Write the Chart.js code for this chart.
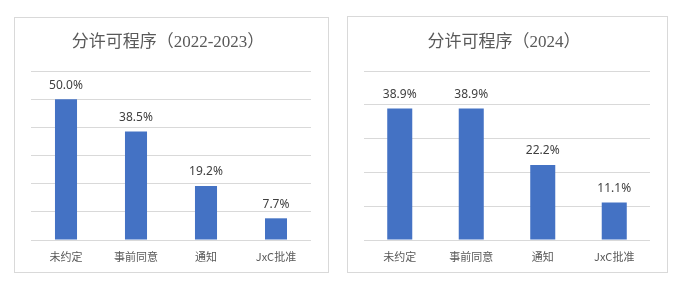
<!DOCTYPE html>
<html>
<head>
<meta charset="utf-8">
<script src="https://cdn.jsdelivr.net/npm/chart.js@4"></script>
<style>
  html, body { margin: 0; padding: 0; background: #fff; }
  body { width: 679px; height: 287px; position: relative; overflow: hidden; }
  .box { position: absolute; box-sizing: border-box; border: 1px solid #d9d9d9; background: #fff; }
  .box canvas { display: block; }
</style>
</head>
<body>
<div class="box" id="b1" style="left:14px; top:17px; width:315px; height:256px;"><canvas id="c1"></canvas></div>
<div class="box" id="b2" style="left:347px; top:16px; width:321px; height:257px;"><canvas id="c2"></canvas></div>
<script>
const categories = ['未约定', '事前同意', '通知', 'JxC批准'];
const title1 = '分许可程序（2022-2023）';
const values1 = [50.0, 38.5, 19.2, 7.7];
const yMax1 = 60;
const title2 = '分许可程序（2024）';
const values2 = [38.9, 38.9, 22.2, 11.1];
const yMax2 = 50;
const yStep = 10;

const BAR = '#4472C4';
const GRID = '#d9d9d9';

function makeChart(canvasId, title, values, yMax, barPct, pad, titleY) {
  const canvas = document.getElementById(canvasId);
  const box = canvas.parentElement;
  const w = box.clientWidth, h = box.clientHeight;
  canvas.width = w; canvas.height = h;
  canvas.style.width = w + 'px'; canvas.style.height = h + 'px';

  const overlay = {
    id: 'overlay',
    afterDatasetsDraw(chart) {
      const ctx = chart.ctx;
      ctx.save();
      ctx.font = '12px "Noto Sans", "Liberation Sans", sans-serif';
      ctx.fillStyle = '#404040';
      ctx.textAlign = 'center';
      ctx.textBaseline = 'middle';
      const meta = chart.getDatasetMeta(0);
      meta.data.forEach((bar, i) => {
        const v = chart.data.datasets[0].data[i];
        ctx.fillText(v.toFixed(1) + '%', bar.x, bar.y - 14);
      });
      ctx.font = '17px "Liberation Serif", "Noto Sans CJK SC", serif';
      ctx.fillStyle = '#595959';
      const ca = chart.chartArea;
      ctx.fillText(title, (ca.left + ca.right) / 2 - 3, titleY);
      ctx.restore();
    }
  };

  return new Chart(canvas, {
    type: 'bar',
    data: {
      labels: categories,
      datasets: [{
        data: values,
        backgroundColor: BAR,
        borderWidth: 0,
        barPercentage: barPct,
        categoryPercentage: 1.0
      }]
    },
    options: {
      responsive: false,
      animation: false,
      devicePixelRatio: 1,
      layout: { padding: pad },
      plugins: { legend: { display: false }, tooltip: { enabled: false }, title: { display: false } },
      scales: {
        x: {
          grid: { display: false, drawTicks: false, tickLength: 0 },
          border: { display: false },
          ticks: {
            color: '#595959',
            padding: 10,
            font: { size: 11, family: '"Noto Sans CJK SC", "Noto Sans", sans-serif' }
          },
          afterFit(scale) { scale.height = 23; }
        },
        y: {
          min: 0, max: yMax,
          ticks: { display: false, stepSize: yStep },
          grid: { color: GRID, lineWidth: 1, drawTicks: false, tickLength: 0 },
          border: { display: false },
          afterFit(scale) { scale.width = 0; }
        }
      }
    },
    plugins: [overlay]
  });
}

makeChart('c1', title1, values1, yMax1, 0.315, { left: 16, right: 17, top: 53, bottom: 9 }, 25);
makeChart('c2', title2, values2, yMax2, 0.35, { left: 16, right: 17, top: 54, bottom: 9 }, 26);
</script>
</body>
</html>
